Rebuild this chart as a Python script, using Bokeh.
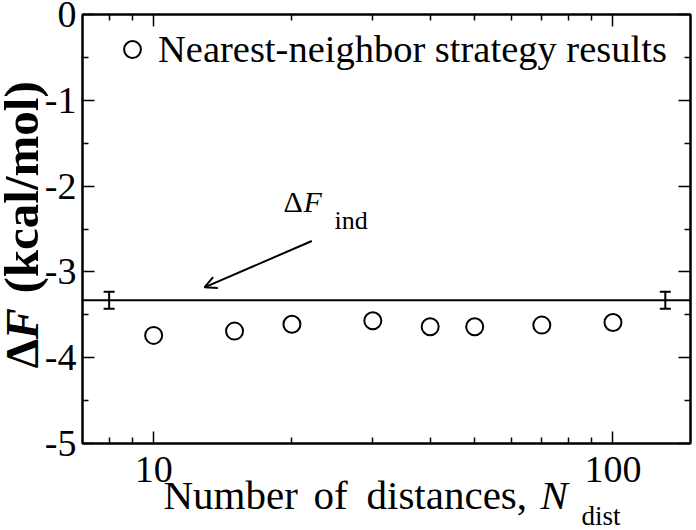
import math
from bokeh.plotting import figure
from bokeh.layouts import column, row
from bokeh.models import (LogAxis, LinearAxis, FixedTicker, Span, Whisker, TeeHead, Arrow,
                          OpenHead, Label, Legend, LegendItem, ColumnDataSource, Range1d,
                          CustomJSTickFormatter)
from bokeh.embed import file_html
from bokeh.resources import INLINE

# ---------------- data ----------------
n_dist = [10, 15, 20, 30, 40, 50, 70, 100]
delta_f = [-3.74, -3.69, -3.61, -3.57, -3.64, -3.64, -3.62, -3.59]
df_ind = -3.33
df_ind_err = 0.10
err_x = [8, 130]
x_major = [10, 100]
x_minor = [8, 9, 20, 30, 40, 50, 60, 70, 80, 90]
x_tick_labels = ["10", "100"]
y_major = [-5, -4, -3, -2, -1, 0]
y_minor = [-4.5, -3.5, -2.5, -1.5, -0.5]
y_tick_labels = ["-5", "-4", "-3", "-2", "-1", "0"]
legend_label = "Nearest-neighbor strategy results"
arrow_tail = (22.1, -2.64)
arrow_head = (12.9, -3.18)

FONT = "Liberation Serif"
MID = 0.32  # Label anchor (middle) sits this many em above the alphabetic baseline

Y0, Y1 = -5, 0
FRAME_TOP, FRAME_H, TOTAL_H = 14, 429, 530

# ---------------- main plot ----------------
p = figure(width=614, height=445, x_axis_type="log",
           x_range=Range1d(7.0, 147.5), y_range=Range1d(Y0, Y1),
           output_backend="svg", toolbar_location=None, margin=0,
           min_border_left=2, min_border_right=4, min_border_top=FRAME_TOP, min_border_bottom=2)
p.background_fill_color = "white"
p.border_fill_color = "white"
p.outline_line_color = "black"
p.outline_line_width = 2
p.xgrid.visible = False
p.ygrid.visible = False

def style_axis(ax, ticks, minor):
    ax.ticker = FixedTicker(ticks=ticks, minor_ticks=minor)
    ax.axis_line_width = 2
    ax.axis_line_color = "black"
    ax.major_tick_in = 12
    ax.major_tick_out = 0
    ax.minor_tick_in = 6
    ax.minor_tick_out = 0
    ax.major_tick_line_width = 1.5
    ax.minor_tick_line_width = 1.5
    ax.major_tick_line_color = "black"
    ax.minor_tick_line_color = "black"
    ax.axis_label = None
    # tick numbers are drawn in the neighbouring strips through the same scales
    ax.formatter = CustomJSTickFormatter(code="return '';")
    ax.major_label_text_font_size = "1px"
    ax.major_label_standoff = 0

style_axis(p.xaxis[0], x_major, x_minor)
style_axis(p.yaxis[0], y_major, y_minor)
top = LogAxis()
style_axis(top, x_major, x_minor)
p.add_layout(top, "above")
right = LinearAxis()
style_axis(right, y_major, y_minor)
p.add_layout(right, "right")

# reference line and its error bars
p.add_layout(Span(location=df_ind, dimension="width", line_color="black", line_width=2))
err_src = ColumnDataSource(dict(x=err_x,
                                upper=[df_ind + df_ind_err] * len(err_x),
                                lower=[df_ind - df_ind_err] * len(err_x)))
p.add_layout(Whisker(base="x", upper="upper", lower="lower", source=err_src,
                     line_color="black", line_width=2,
                     upper_head=TeeHead(size=11, line_width=2, line_color="black"),
                     lower_head=TeeHead(size=11, line_width=2, line_color="black")))

# data points
src = ColumnDataSource(dict(x=n_dist, y=delta_f))
r = p.scatter("x", "y", source=src, marker="circle", size=17, line_color="black",
              line_width=2, fill_color=None)

# arrow
p.add_layout(Arrow(x_start=arrow_tail[0], y_start=arrow_tail[1],
                   x_end=arrow_head[0], y_end=arrow_head[1],
                   line_color="black", line_width=2,
                   end=OpenHead(size=12, line_width=2, line_color="black")))

# legend
legend = Legend(items=[LegendItem(label=legend_label, renderers=[r])],
                location=(29, 372), glyph_width=42, glyph_height=42, label_height=42,
                label_standoff=5, padding=0, margin=0, spacing=0,
                border_line_color=None, background_fill_alpha=0,
                label_text_font=FONT, label_text_font_size="38.5px",
                label_text_color="black")
p.add_layout(legend)

def lab(fig, text, x, y_base, size, style="normal", angle=0.0, align="left",
        x_units="screen", y_units="screen"):
    # y_base: alphabetic baseline (px from the frame's bottom); for rotated text x is the baseline
    if angle == 0.0:
        y = y_base + MID * size if y_units == "screen" else y_base
        xx = x
    else:
        y = y_base
        xx = x - MID * size
    fig.add_layout(Label(x=xx, y=y, x_units=x_units, y_units=y_units, text=text,
                         text_font=FONT, text_font_size=f"{size}px", text_font_style=style,
                         text_color="black", text_align=align, text_baseline="middle",
                         angle=angle))

# delta F_ind annotation (inside the frame)
lab(p, "\u0394", 201, 232, 30)
lab(p, "F", 221, 232, 30, "italic")
lab(p, "ind", 252, 215, 26)

# ---------------- left strip: y tick numbers + y-axis title ----------------
px_per_unit = FRAME_H / (Y1 - Y0)
fy_top = Y1 + FRAME_TOP / px_per_unit
fy_bottom = Y0 - (TOTAL_H - FRAME_TOP - FRAME_H) / px_per_unit
fy = figure(width=80, height=TOTAL_H, output_backend="svg", toolbar_location=None, margin=0,
            x_axis_location=None, y_axis_location=None, min_border=0,
            x_range=Range1d(0, 1), y_range=Range1d(fy_bottom, fy_top))
fy.outline_line_color = None
fy.background_fill_color = "white"
fy.border_fill_color = "white"
fy.xgrid.visible = False
fy.ygrid.visible = False
for v, t in zip(y_major, y_tick_labels):
    lab(fy, t, 76, v, 38, align="right", y_units="data")
lab(fy, "\u0394", 37, 162, 47, "bold", math.pi / 2)
lab(fy, "F", 37, 191, 47, "bold italic", math.pi / 2)
lab(fy, "(kcal/mol)", 37, 237, 49, "bold", math.pi / 2)

# ---------------- bottom strip: x tick numbers + x-axis title ----------------
fx = figure(width=614, height=TOTAL_H - 445, x_axis_type="log", x_range=p.x_range,
            y_range=Range1d(0, 1), output_backend="svg", toolbar_location=None, margin=0,
            x_axis_location=None, y_axis_location=None,
            min_border_left=2, min_border_right=4, min_border_top=0, min_border_bottom=0)
fx.outline_line_color = None
fx.background_fill_color = "white"
fx.border_fill_color = "white"
fx.xgrid.visible = False
fx.ygrid.visible = False
for v, t in zip(x_major, x_tick_labels):
    lab(fx, t, v, 49, 38, align="center", x_units="data")
lab(fx, "Number", 81, 22, 41)
lab(fx, "of", 231, 22, 41)
lab(fx, "distances,", 284, 22, 41)
lab(fx, "N", 458, 22, 41, "italic")
lab(fx, "dist", 499, 6, 27)

layout = row(fy, column(p, fx, spacing=0, margin=0), spacing=0, margin=0)

open("out.html", "w").write(file_html(layout, INLINE))
